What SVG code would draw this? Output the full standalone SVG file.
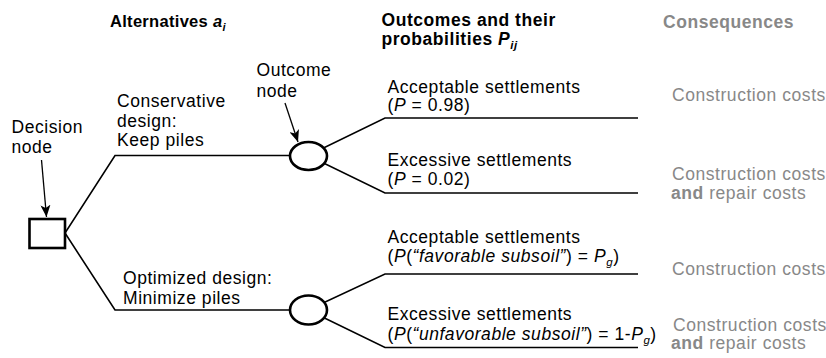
<svg xmlns="http://www.w3.org/2000/svg" width="826" height="358" viewBox="0 0 826 358">
<defs>
<marker id="arr" viewBox="0 0 12 10" refX="12" refY="5" markerWidth="12" markerHeight="10" markerUnits="userSpaceOnUse" orient="auto">
<path d="M0,0 L12,5 L0,10 L3,5 z" fill="#000"/>
</marker>
<style>
text{font-family:"Liberation Sans",Arial,sans-serif;font-size:17.5px;letter-spacing:0.55px;fill:#000}
.b{font-weight:bold}
.g{fill:#888888}
.i{font-style:italic}
.sub{font-size:11.5px}
.ln{fill:none;stroke:#000;stroke-width:1.6}
.node{fill:#fff;stroke:#000;stroke-width:2.6}
.pt{fill:none;stroke:#000;stroke-width:1.3}
</style>
</defs>
<rect width="826" height="358" fill="#fff"/>

<g id="headers">
<text class="b" x="110" y="27" style="font-size:16.5px;letter-spacing:0.3px">Alternatives <tspan class="i">a</tspan><tspan class="i" style="font-size:11px" dy="4">i</tspan></text>
<text class="b" x="381.5" y="26">Outcomes and their</text>
<text class="b" x="381.5" y="44.5">probabilities <tspan class="i">P</tspan><tspan class="i" style="font-size:11.5px" dy="4">ij</tspan></text>
<text class="b g" x="663" y="28">Consequences</text>
</g>

<g id="connectors">
<polyline class="ln" points="308,155.5 115,155.5 65,233 115,310 308,310"/>
<polyline class="ln" points="638,118 385,118 308,155.5 385,193 638,193"/>
<polyline class="ln" points="638,274 385,274 308,310 385,347.5 638,347.5"/>
<line class="pt" x1="41.5" y1="160" x2="46.5" y2="217" marker-end="url(#arr)"/>
<line class="pt" x1="285" y1="103" x2="298" y2="142" marker-end="url(#arr)"/>
</g>

<g id="decision-node">
<rect class="node" x="29.5" y="219" width="35.5" height="29"/>
<text x="11.5" y="133">Decision</text>
<text x="11.5" y="153">node</text>
</g>

<g id="outcome-node-1">
<ellipse class="node" cx="308.5" cy="156" rx="18.5" ry="14"/>
<text x="256.5" y="76">Outcome</text>
<text x="256.5" y="96.5">node</text>
</g>

<g id="outcome-node-2">
<ellipse class="node" cx="308.5" cy="310" rx="18.5" ry="14.5"/>
</g>

<g id="alt-conservative">
<text x="117" y="107">Conservative</text>
<text x="117" y="127">design:</text>
<text x="117" y="146">Keep piles</text>
</g>

<g id="alt-optimized">
<text x="123" y="284">Optimized design:</text>
<text x="123" y="304">Minimize piles</text>
</g>

<g id="outcome-1">
<text x="387.5" y="92.5">Acceptable settlements</text>
<text x="387.5" y="111">(<tspan class="i">P</tspan> = 0.98)</text>
<text class="g" x="672" y="101">Construction costs</text>
</g>

<g id="outcome-2">
<text x="387.5" y="166">Excessive settlements</text>
<text x="387.5" y="184.5">(<tspan class="i">P</tspan> = 0.02)</text>
<text class="g" x="672" y="180">Construction costs</text>
<text class="g" x="671" y="199"><tspan class="b">and</tspan> repair costs</text>
</g>

<g id="outcome-3">
<text x="387.5" y="242.5">Acceptable settlements</text>
<text x="387.5" y="261.5">(<tspan class="i">P</tspan>(<tspan class="i">“favorable subsoil”</tspan>) = <tspan class="i">P</tspan><tspan class="i sub" dy="4">g</tspan><tspan dy="-4">)</tspan></text>
<text class="g" x="672" y="274.5">Construction costs</text>
</g>

<g id="outcome-4">
<text x="387.5" y="319.5">Excessive settlements</text>
<text x="387.5" y="340">(<tspan class="i">P</tspan>(<tspan class="i">“unfavorable subsoil”</tspan>) = 1-<tspan class="i">P</tspan><tspan class="i sub" dy="4">g</tspan><tspan dy="-4">)</tspan></text>
<text class="g" x="673" y="330.5">Construction costs</text>
<text class="g" x="671" y="349"><tspan class="b">and</tspan> repair costs</text>
</g>
</svg>
